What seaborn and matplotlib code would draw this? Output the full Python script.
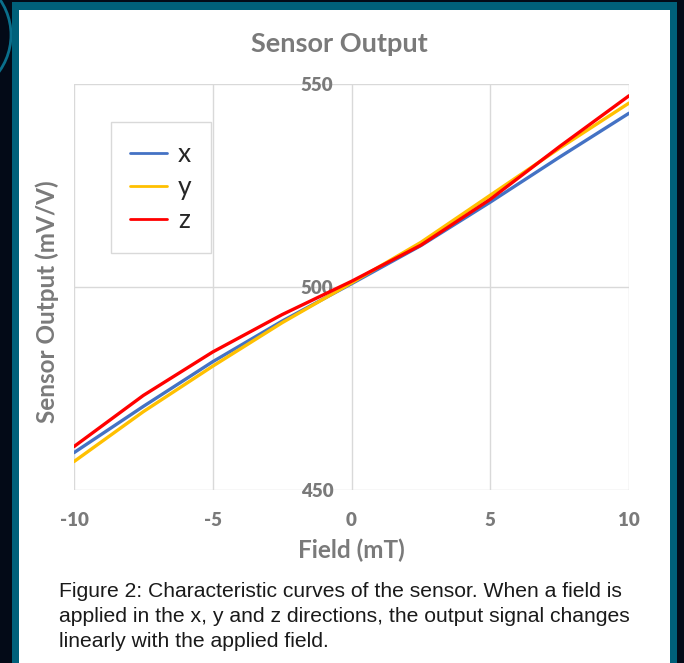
import pandas as pd
import seaborn as sns
import matplotlib.pyplot as plt
from matplotlib.patches import Rectangle, Circle

sns.set_theme(style="white")
plt.rcParams['font.family'] = ['Lato', 'DejaVu Sans']

# values
field = [-10, -7.5, -5, -2.5, 0, 2.5, 5, 7.5, 10]
x_out = [459.2, 470.6, 481.6, 491.6, 500.8, 510.2, 520.9, 532.0, 542.8]
y_out = [457.0, 469.3, 480.5, 491.2, 501.0, 511.0, 522.6, 534.2, 545.3]
z_out = [460.7, 473.3, 484.0, 493.2, 501.4, 510.3, 521.6, 534.6, 547.1]
series = ['x', 'y', 'z']
colors = {'x': '#4472C4', 'y': '#FFC000', 'z': '#FF0000'}
x_ticks = [-10, -5, 0, 5, 10]
x_tick_labels = ['-10', '-5', '0', '5', '10']
y_ticks = [450, 500, 550]

df = pd.concat([
    pd.DataFrame({'field': field, 'output': x_out, 'axis': 'x'}),
    pd.DataFrame({'field': field, 'output': y_out, 'axis': 'y'}),
    pd.DataFrame({'field': field, 'output': z_out, 'axis': 'z'}),
])

fig = plt.figure(figsize=(6.84, 6.63), dpi=100)
fig.patch.set_facecolor('#030a17')

# slide background: teal frame and white panel (behind the axes)
fig.patches.append(Circle((-55 / 684, 1 - 35 / 663), 66 / 684, transform=fig.transFigure,
                          fill=False, edgecolor='#0a6f8c', lw=2, zorder=-3))
fig.patches.append(Rectangle((12 / 684, 0), 665 / 684, 661 / 663, transform=fig.transFigure,
                             facecolor='#00607a', edgecolor='none', zorder=-2))
fig.patches.append(Rectangle((19 / 684, 0), 650.5 / 684, 653 / 663, transform=fig.transFigure,
                             facecolor='white', edgecolor='none', zorder=-1))

ax = fig.add_axes([74 / 684, 1 - 490 / 663, 555 / 684, 406 / 663])
ax.set_facecolor('none')

sns.lineplot(data=df, x='field', y='output', hue='axis', hue_order=series,
             palette=colors, linewidth=2.4, ax=ax)

ax.set_xlim(-10, 10)
ax.set_ylim(450, 550)
ax.set_xticks(x_ticks, labels=x_tick_labels)
ax.set_yticks(y_ticks, labels=[str(v) for v in y_ticks])
ax.grid(True, color='#d9d9d9', linewidth=1)
ax.set_axisbelow(True)
for s in ax.spines.values():
    s.set_visible(False)
ax.spines['left'].set_position(('data', 0))

gray = '#7a7a7a'
ax.tick_params(axis='both', length=0, labelsize=13.5, labelcolor=gray)
ax.tick_params(axis='y', pad=13)
ax.tick_params(axis='x', pad=16)

ax.set_title('Sensor Output', fontsize=19.5, fontweight='bold', color=gray, x=0.478, pad=23)
ax.set_xlabel('Field (mT)', fontsize=17.5, fontweight='bold', color=gray, labelpad=7)
ax.set_ylabel('Sensor Output (mV/V)', fontsize=17.5, fontweight='bold', color=gray)
ax.yaxis.set_label_coords(-0.027, 0.465)

handles, labels = ax.get_legend_handles_labels()
leg = ax.legend(handles, labels, loc='upper left', bbox_to_anchor=(0.066, 0.906),
                borderaxespad=0, fontsize=19,
                frameon=True, fancybox=False,
                framealpha=1, edgecolor='#d9d9d9', handlelength=1.4,
                handletextpad=0.4, labelspacing=0.3, borderpad=0.75)
leg.get_frame().set_linewidth(1)
for line in leg.get_lines():
    line.set_linewidth(2)

fig.text(59 / 684, 1 - 582 / 663,
         'Figure 2: Characteristic curves of the sensor. When a field is\n'
         'applied in the x, y and z directions, the output signal changes\n'
         'linearly with the applied field.',
         family='Liberation Sans', fontsize=15.2, color='#1a1a1a',
         ha='left', va='top', linespacing=1.4)

# tick labels bold, set once the ticks exist
fig.canvas.draw()
for lab in ax.get_xticklabels() + ax.get_yticklabels():
    lab.set_fontweight('heavy')

fig.savefig('out.png', dpi=100, facecolor=fig.get_facecolor())
